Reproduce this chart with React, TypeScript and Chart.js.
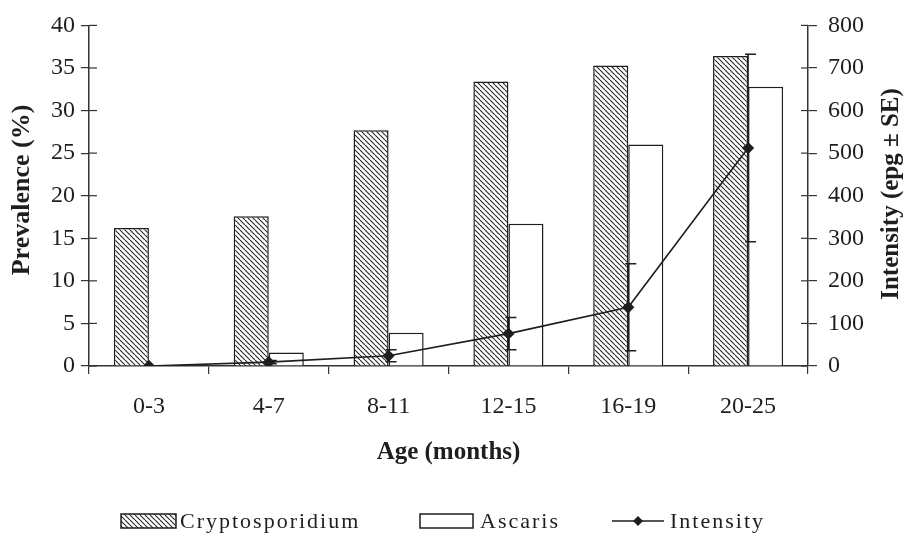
import React, { useEffect, useRef } from 'react';
import { Chart, registerables } from 'chart.js';

Chart.register(...registerables);

const categories = ['0-3', '4-7', '8-11', '12-15', '16-19', '20-25'];
const cryptoPrevalence = [16.2, 17.6, 27.7, 33.4, 35.3, 36.4];
const ascarisPrevalence = [0, 1.6, 3.9, 16.7, 26.0, 32.8];
const intensity = [0, 9, 24, 76, 138, 512];
const intensitySE = [0, 4, 14, 38, 102, 220];

const seriesNames = ['Cryptosporidium', 'Ascaris', 'Intensity'];
const xTitle = 'Age (months)';
const yTitle = 'Prevalence (%)';
const y1Title = 'Intensity (epg \u00b1 SE)';

const SERIF = "'Liberation Serif', 'Times New Roman', serif";
const INK = '#1e1e1e';

function makeHatch(): CanvasPattern | string {
  const s = 5;
  const c = document.createElement('canvas');
  c.width = s;
  c.height = s;
  const g = c.getContext('2d');
  if (!g) return '#888';
  g.fillStyle = '#ffffff';
  g.fillRect(0, 0, s, s);
  g.strokeStyle = '#262626';
  g.lineWidth = 1.1;
  for (const off of [-s, 0, s]) {
    g.beginPath();
    g.moveTo(off, 0);
    g.lineTo(off + s, s);
    g.stroke();
  }
  return g.createPattern(c, 'repeat') || '#888';
}

function drawDiamond(ctx: CanvasRenderingContext2D, x: number, y: number, r: number) {
  ctx.beginPath();
  ctx.moveTo(x, y - r);
  ctx.lineTo(x + r, y);
  ctx.lineTo(x, y + r);
  ctx.lineTo(x - r, y);
  ctx.closePath();
  ctx.fill();
}

export default function App() {
  const canvasRef = useRef<HTMLCanvasElement | null>(null);

  useEffect(() => {
    const canvas = canvasRef.current;
    if (!canvas) return;
    const hatch = makeHatch();

    const errorBars = {
      id: 'errorBars',
      afterDatasetsDraw(chart: any) {
        const ctx = chart.ctx as CanvasRenderingContext2D;
        const meta = chart.getDatasetMeta(2);
        const y1 = chart.scales.y1;
        ctx.save();
        ctx.strokeStyle = INK;
        ctx.lineWidth = 1.5;
        meta.data.forEach((pt: any, i: number) => {
          const se = intensitySE[i];
          if (!se) return;
          const x = pt.x;
          const yu = y1.getPixelForValue(intensity[i] + se);
          const yl = y1.getPixelForValue(Math.max(0, intensity[i] - se));
          ctx.beginPath();
          ctx.moveTo(x, yu);
          ctx.lineTo(x, yl);
          ctx.moveTo(x - 3, yu);
          ctx.lineTo(x + 8, yu);
          ctx.moveTo(x - 3, yl);
          ctx.lineTo(x + 8, yl);
          ctx.stroke();
        });
        ctx.restore();
      },
    };

    const extras = {
      id: 'extras',
      afterDraw(chart: any) {
        const ctx = chart.ctx as CanvasRenderingContext2D;
        const area = chart.chartArea;
        const ys = chart.scales.y;
        const y1s = chart.scales.y1;
        ctx.save();
        // inward halves of the crossing tick marks
        ctx.strokeStyle = '#333';
        ctx.lineWidth = 1.2;
        ys.ticks.forEach((_t: any, i: number) => {
          const py = ys.getPixelForTick(i);
          ctx.beginPath();
          ctx.moveTo(area.left, py);
          ctx.lineTo(area.left + 8, py);
          ctx.stroke();
        });
        y1s.ticks.forEach((_t: any, i: number) => {
          const py = y1s.getPixelForTick(i);
          ctx.beginPath();
          ctx.moveTo(area.right - 7, py);
          ctx.lineTo(area.right, py);
          ctx.stroke();
        });

        // rotated axis titles
        ctx.fillStyle = INK;
        ctx.textAlign = 'center';
        ctx.textBaseline = 'middle';
        ctx.save();
        ctx.font = `bold 26px ${SERIF}`;
        ctx.translate(22, 190);
        ctx.rotate(-Math.PI / 2);
        ctx.fillText(yTitle, 0, 0);
        ctx.restore();
        ctx.save();
        ctx.font = `bold 25px ${SERIF}`;
        ctx.translate(892, 194);
        ctx.rotate(-Math.PI / 2);
        ctx.fillText(y1Title, 0, 0);
        ctx.restore();

        // legend
        const ly = 521;
        ctx.font = `22px ${SERIF}`;
        ctx.textAlign = 'left';
        ctx.textBaseline = 'middle';
        (ctx as any).letterSpacing = '2px';
        ctx.lineWidth = 1.5;
        ctx.strokeStyle = INK;
        ctx.fillStyle = hatch as any;
        ctx.fillRect(121, ly - 7, 55, 14);
        ctx.strokeRect(121, ly - 7, 55, 14);
        ctx.fillStyle = INK;
        ctx.fillText(seriesNames[0], 180, ly + 1);

        ctx.fillStyle = '#ffffff';
        ctx.fillRect(420, ly - 7, 53, 14);
        ctx.strokeRect(420, ly - 7, 53, 14);
        ctx.fillStyle = INK;
        ctx.fillText(seriesNames[1], 480, ly + 1);

        ctx.beginPath();
        ctx.moveTo(612, ly);
        ctx.lineTo(664, ly);
        ctx.stroke();
        drawDiamond(ctx, 638, ly, 5);
        ctx.fillText(seriesNames[2], 670, ly + 1);
        (ctx as any).letterSpacing = '0px';
        ctx.restore();
      },
    };

    const tickFont = { family: SERIF, size: 24 };

    const chart = new Chart(canvas, {
      type: 'bar',
      data: {
        labels: categories,
        datasets: [
          {
            type: 'bar',
            label: seriesNames[0],
            data: cryptoPrevalence,
            yAxisID: 'y',
            backgroundColor: hatch as any,
            borderColor: INK,
            borderWidth: 1.5,
            categoryPercentage: 0.585,
            barPercentage: 1.0,
            order: 2,
          },
          {
            type: 'bar',
            label: seriesNames[1],
            data: ascarisPrevalence,
            yAxisID: 'y',
            backgroundColor: '#ffffff',
            borderColor: INK,
            borderWidth: 1.5,
            categoryPercentage: 0.585,
            barPercentage: 1.0,
            order: 2,
          },
          {
            type: 'line',
            label: seriesNames[2],
            data: intensity,
            yAxisID: 'y1',
            borderColor: INK,
            borderWidth: 1.6,
            pointStyle: 'rectRot',
            pointRadius: 5,
            pointBackgroundColor: INK,
            pointBorderColor: INK,
            tension: 0,
            order: 0,
          } as any,
        ],
      },
      options: {
        animation: false,
        responsive: false,
        devicePixelRatio: 1,
        layout: { padding: { top: 19, bottom: 68, left: 0, right: 0 } },
        plugins: {
          legend: { display: false },
          tooltip: { enabled: false },
        },
        scales: {
          x: {
            offset: true,
            grid: {
              display: true,
              drawOnChartArea: false,
              drawTicks: true,
              tickLength: 8,
              color: '#333',
              lineWidth: 1.2,
              offset: true,
            },
            border: { display: true, color: '#333', width: 1.5 },
            ticks: { font: tickFont, color: INK, padding: 18, maxRotation: 0 },
            title: {
              display: true,
              text: xTitle,
              font: { family: SERIF, size: 25, weight: 'bold' },
              color: INK,
              padding: { top: 0, bottom: 0 },
            },
            afterFit: (s: any) => {
              s.height = 102;
            },
          },
          y: {
            position: 'left',
            min: 0,
            max: 40,
            ticks: { stepSize: 5, font: tickFont, color: INK, padding: 6 },
            grid: { drawOnChartArea: false, tickLength: 8, color: '#333', lineWidth: 1.2 },
            border: { display: true, color: '#333', width: 1.5 },
            afterFit: (s: any) => {
              s.width = 89;
            },
          },
          y1: {
            position: 'right',
            min: 0,
            max: 800,
            ticks: { stepSize: 100, font: tickFont, color: INK, padding: 11 },
            grid: { drawOnChartArea: false, tickLength: 9, color: '#333', lineWidth: 1.2 },
            border: { display: true, color: '#333', width: 1.5 },
            afterFit: (s: any) => {
              s.width = 99;
            },
          },
        },
      } as any,
      plugins: [errorBars, extras],
    });

    return () => {
      chart.destroy();
    };
  }, []);

  return (
    <div style={{ position: 'absolute', left: 0, top: 0, width: 907, height: 536, background: '#ffffff' }}>
      <canvas ref={canvasRef} width={907} height={536} style={{ display: 'block' }} />
    </div>
  );
}
